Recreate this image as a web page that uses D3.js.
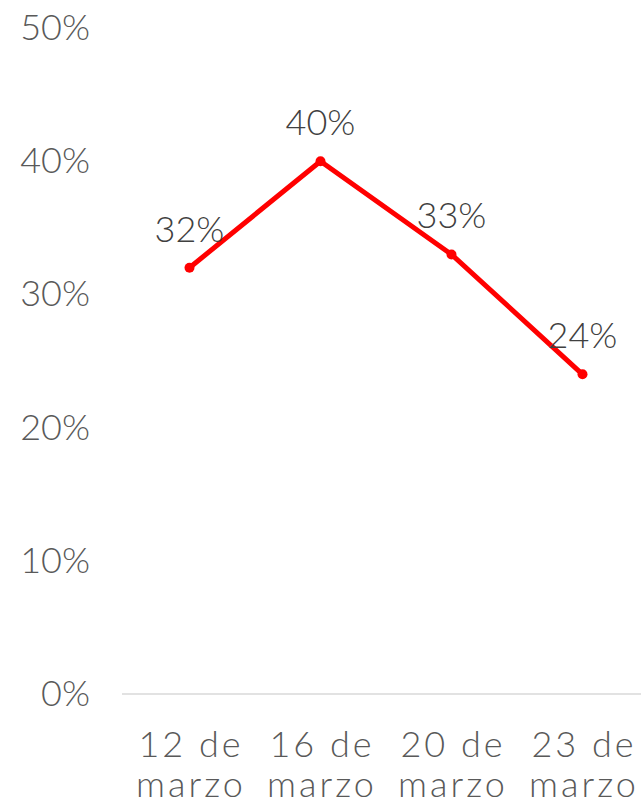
<!DOCTYPE html>
<html><head><meta charset="utf-8">
<script src="https://cdn.jsdelivr.net/npm/d3@7"></script>
<style>body{margin:0;background:#fff}svg{display:block}</style>
</head><body>
<svg id="c" width="641" height="804"></svg>
<script>
const categories = [["12 de","marzo"],["16 de","marzo"],["20 de","marzo"],["23 de","marzo"]];
const values = [0.32, 0.40, 0.33, 0.24];
const yTicks = [0, 0.1, 0.2, 0.3, 0.4, 0.5];

const svg = d3.select("#c");
const font = "Lato, 'Open Sans', sans-serif";
const keys = categories.map(c => c.join(" "));
const x = d3.scaleBand().domain(keys).range([124, 648]);
const y = d3.scaleLinear().domain([0, 0.5]).range([694, 28]);
const fmt = d3.format(".0%");
const cx = i => x(keys[i]) + x.bandwidth() / 2;

// y axis labels
const ya = svg.append("g").attr("transform", "translate(90,0)")
  .call(d3.axisLeft(y).tickValues(yTicks).tickFormat(fmt).tickSize(0).tickPadding(0));
ya.select(".domain").remove();
ya.selectAll("text").attr("font-family", font).attr("font-weight", 300)
  .attr("font-size", 36).attr("letter-spacing", 0).attr("fill", "#595959");

// baseline
svg.append("line").attr("x1", 122).attr("x2", 641).attr("y1", y(0)).attr("y2", y(0))
  .attr("stroke", "#d9d9d9").attr("stroke-width", 1.5);

// x labels
const xl = svg.append("g");
categories.forEach((c, i) => {
  const t = xl.append("text").attr("text-anchor", "middle").attr("font-family", font)
    .attr("font-weight", 300).attr("font-size", 36).attr("letter-spacing", 3).attr("fill", "#595959");
  t.append("tspan").attr("x", cx(i) + 1.5).attr("y", 757).text(c[0]);
  t.append("tspan").attr("x", cx(i) + 1.5).attr("y", 797).text(c[1]);
});

// line
const line = d3.line().x((d, i) => cx(i)).y(d => y(d));
svg.append("path").datum(values).attr("d", line).attr("fill", "none")
  .attr("stroke", "#ff0000").attr("stroke-width", 5).attr("stroke-linejoin", "round");
svg.selectAll("circle.pt").data(values).join("circle").attr("class", "pt")
  .attr("cx", (d, i) => cx(i)).attr("cy", d => y(d)).attr("r", 5).attr("fill", "#ff0000");

// data labels
svg.selectAll("text.lbl").data(values).join("text").attr("class", "lbl")
  .attr("x", (d, i) => cx(i)).attr("y", d => y(d) - 26).attr("text-anchor", "middle")
  .attr("font-family", font).attr("font-weight", 300).attr("font-size", 36)
  .attr("fill", "#404040").text(d => fmt(d));
</script>
</body></html>
